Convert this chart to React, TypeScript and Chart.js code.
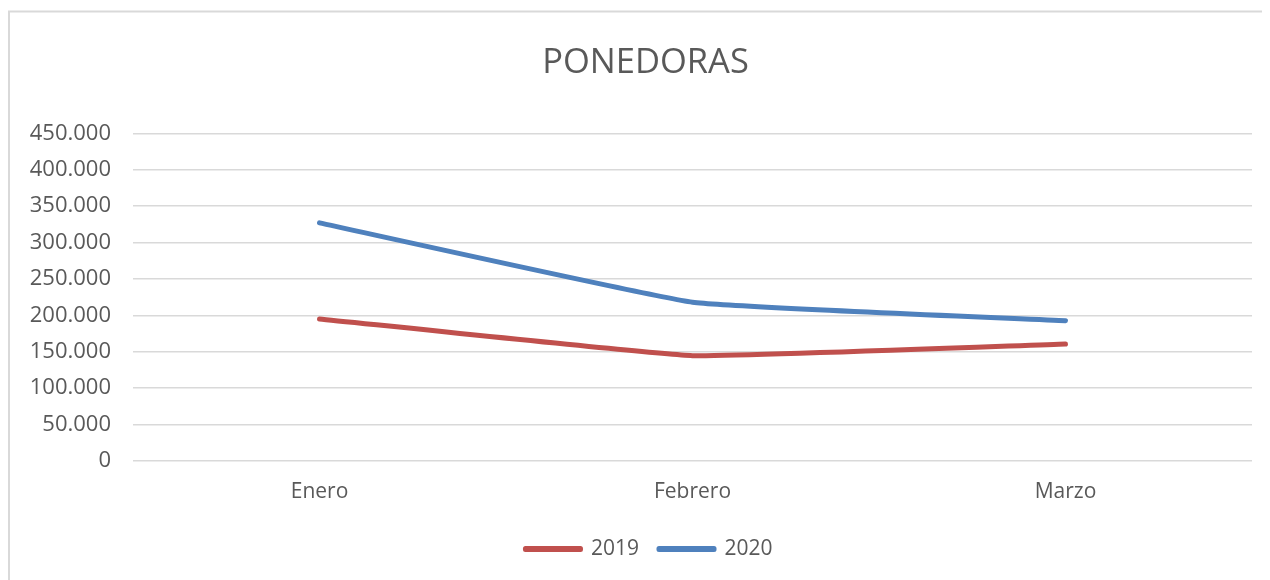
import React, { useEffect, useRef } from "react";
import { Chart, registerables } from "chart.js";

Chart.register(...registerables);

const months = ["Enero", "Febrero", "Marzo"];
const values2019 = [195000, 144500, 160500];
const values2020 = [327000, 218000, 192500];
const yMin = 0;
const yMax = 450000;
const yStep = 50000;

const FONT = "'Open Sans', 'Liberation Sans', sans-serif";
const TEXT = "#595959";

function fmt(v: number): string {
  return String(Math.round(v)).replace(/\B(?=(\d{3})+(?!\d))/g, ".");
}

const borderPlugin = {
  id: "outerBorder",
  afterLayout(chart: any) {
    if (chart.titleBlock) chart.titleBlock.left += 11;
    if (chart.legend) chart.legend.left += 18;
  },
  beforeDraw(chart: any) {
    const ctx = chart.ctx;
    ctx.save();
    ctx.fillStyle = "#ffffff";
    ctx.fillRect(0, 0, chart.width, chart.height);
    ctx.strokeStyle = "#d9d9d9";
    ctx.lineWidth = 2;
    ctx.strokeRect(1, 3.5, chart.width + 20, chart.height + 20);
    ctx.restore();
  },
};

export default function App() {
  const ref = useRef<HTMLCanvasElement | null>(null);
  useEffect(() => {
    if (!ref.current) return;
    const chart = new Chart(ref.current, {
      type: "line",
      data: {
        labels: months,
        datasets: [
          {
            label: "2019",
            data: values2019,
            borderColor: "#C0504D",
            backgroundColor: "#C0504D",
            borderWidth: 5,
            pointRadius: 0,
            tension: 0.1,
            borderCapStyle: "round",
            borderJoinStyle: "round",
          },
          {
            label: "2020",
            data: values2020,
            borderColor: "#4F81BD",
            backgroundColor: "#4F81BD",
            borderWidth: 5,
            pointRadius: 0,
            tension: 0.1,
            borderCapStyle: "round",
            borderJoinStyle: "round",
          },
        ],
      },
      options: {
        animation: false,
        responsive: false,
        maintainAspectRatio: false,
        layout: { padding: { top: 0, left: 20, right: 18, bottom: 10.5 } },
        plugins: {
          tooltip: { enabled: false },
          title: {
            display: true,
            text: "PONEDORAS",
            color: TEXT,
            font: { family: FONT, size: 34.5, weight: "normal" },
            padding: { top: 34, bottom: 50 },
          },
          legend: {
            position: "bottom",
            labels: {
              color: TEXT,
              font: { family: FONT, size: 21 },
              boxWidth: 55,
              boxHeight: 1,
              padding: 20,
            },
          },
        },
        scales: {
          x: {
            offset: true,
            grid: { display: false },
            border: { display: false },
            ticks: {
              color: TEXT,
              font: { family: FONT, size: 21 },
              padding: 11,
            },
            afterFit: (scale: any) => {
              scale.height += 2.5;
            },
          },
          y: {
            min: yMin,
            max: yMax,
            grid: { color: "#d9d9d9", lineWidth: 1.5, drawTicks: false },
            border: { display: false },
            ticks: {
              stepSize: yStep,
              color: TEXT,
              font: { family: FONT, size: 22 },
              padding: 22,
              callback: (v: any) => fmt(Number(v)),
            },
            afterFit: (scale: any) => {
              scale.width = 105;
            },
          },
        },
      },
      plugins: [borderPlugin],
    });
    return () => chart.destroy();
  }, []);
  return (
    <canvas
      ref={ref}
      width={1262}
      height={572}
      style={{ display: "block", width: "1262px", height: "572px" }}
    />
  );
}
